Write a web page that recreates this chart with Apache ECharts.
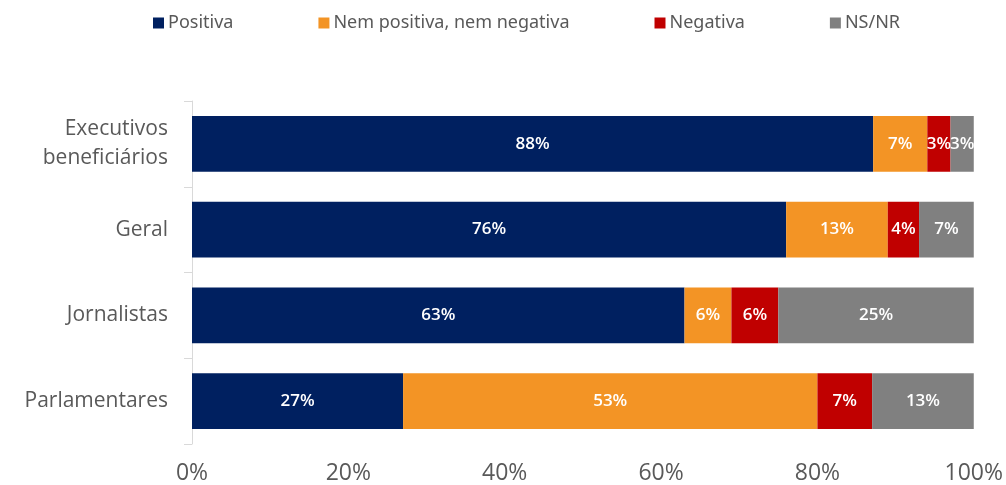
<!DOCTYPE html>
<html>
<head>
<meta charset="utf-8">
<script src="https://cdn.jsdelivr.net/npm/echarts@6/dist/echarts.min.js"></script>
<style>
  html, body { margin: 0; padding: 0; background: #fff; }
  #chart { width: 1006px; height: 485px; }
</style>
</head>
<body>
<div id="chart"></div>
<script>
// categories (top to bottom as drawn)
const categories = ['Executivos\nbeneficiários', 'Geral', 'Jornalistas', 'Parlamentares']
const seriesNames = ['Positiva', 'Nem positiva, nem negativa', 'Negativa', 'NS/NR']
const positiva = [88, 76, 63, 27]
const neutra = [7, 13, 6, 53]
const negativa = [3, 4, 6, 7]
const nsnr = [3, 7, 25, 13]
const xTicks = ['0%', '20%', '40%', '60%', '80%', '100%']
const colors = ['#002060', '#F39425', '#C00000', '#808080']

const raw = [positiva, neutra, negativa, nsnr]
// 100% stacked: each row is scaled to its own total
const totals = categories.map((c, i) => raw.reduce((s, arr) => s + arr[i], 0))

const chart = echarts.init(document.getElementById('chart'))
chart.setOption({
  animation: false,
  color: colors,
  textStyle: { fontFamily: 'Open Sans' },
  legend: {
    top: 9,
    left: 148,
    itemWidth: 11,
    itemHeight: 11,
    itemGap: 85,
    icon: 'rect',
    textStyle: { color: '#595959', fontSize: 18, fontFamily: 'Noto Sans', padding: [0, 0, 0, -1] },
    data: seriesNames
  },
  grid: { left: 192, right: 32, top: 101, bottom: 41 },
  xAxis: {
    type: 'value',
    min: 0,
    max: 100,
    interval: 20,
    axisLine: { show: false },
    axisTick: { show: false },
    splitLine: { show: false },
    axisLabel: {
      color: '#595959',
      fontSize: 23,
      margin: 18,
      formatter: v => xTicks[v / 20]
    }
  },
  yAxis: {
    type: 'category',
    inverse: true,
    data: categories,
    axisLine: { show: true, lineStyle: { color: '#D9D9D9', width: 1 } },
    axisTick: { show: true, length: 8, lineStyle: { color: '#D9D9D9' } },
    axisLabel: { color: '#595959', fontSize: 21, margin: 24, lineHeight: 29 }
  },
  series: raw.map((vals, k) => ({
    name: seriesNames[k],
    type: 'bar',
    stack: 'total',
    barWidth: '65%',
    data: vals.map((v, i) => ({ value: v / totals[i] * 100, raw: v })),
    label: {
      show: true,
      position: 'inside',
      color: '#fff',
      fontSize: 17,
      fontWeight: 600,
      formatter: p => p.data.raw + '%'
    }
  }))
})
</script>
</body>
</html>
